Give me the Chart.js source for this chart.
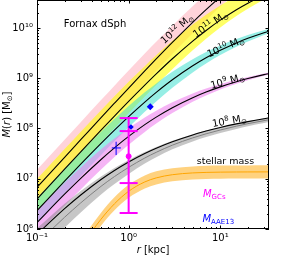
<!DOCTYPE html>
<html>
<head>
<title>Fornax dSph</title>
<script src="https://cdn.jsdelivr.net/npm/chart.js@4.4.1/dist/chart.umd.min.js"></script>
</head>
<body style="margin:0;background:#fff;">
<canvas id="myChart" width="299" height="258"></canvas>
<script>
var radii = [0.1, 0.2, 0.3, 0.5, 0.7, 1, 1.5, 2, 3, 5, 7, 10, 15, 20, 30, 35];

// halo M(r) curves: median line + upper/lower edge of the band
var m12   = [6.76e6, 2.675e7, 5.97e7, 1.642e8, 3.18e8, 6.385e8, 1.398e9, 2.418e9, 5.16e9, 1.297e10, 2.31e10, 4.15e10, 7.67e10];
var m12Hi = [1.514e7, 5.99e7, 1.337e8, 3.676e8, 7.12e8, 1.419e9, 3.087e9, 5.30e9, 1.111e10, 2.71e10, 4.73e10, 8.15e10, 1.435e11];
var m12Lo = [3.80e6, 1.504e7, 3.36e7, 9.24e7, 1.789e8, 3.616e8, 7.97e8, 1.388e9, 3.02e9, 7.81e9, 1.421e10, 2.66e10, 5.16e10];

var m11   = [3.93e6, 1.551e7, 3.44e7, 9.29e7, 1.770e8, 3.47e8, 7.30e8, 1.220e9, 2.438e9, 5.48e9, 8.92e9, 1.429e10, 2.302e10, 3.108e10, 4.51e10];
var m11Hi = [9.87e6, 3.896e7, 8.64e7, 2.307e8, 4.365e8, 8.46e8, 1.739e9, 2.853e9, 5.55e9, 1.174e10, 1.834e10, 2.812e10, 4.32e10, 5.63e10, 7.80e10];
var m11Lo = [2.21e6, 8.72e6, 1.937e7, 5.28e7, 1.014e8, 2.010e8, 4.33e8, 7.37e8, 1.513e9, 3.61e9, 6.13e9, 1.026e10, 1.735e10, 2.424e10, 3.68e10];

var m10   = [2.32e6, 8.95e6, 1.944e7, 5.04e7, 9.25e7, 1.718e8, 3.347e8, 5.218e8, 9.30e8, 1.766e9, 2.551e9, 3.598e9, 5.045e9, 6.219e9, 8.05e9, 8.79e9];
var m10Hi = [4.125e6, 1.573e7, 3.386e7, 8.58e7, 1.542e8, 2.805e8, 5.23e8, 7.88e8, 1.338e9, 2.388e9, 3.316e9, 4.479e9, 6.02e9, 7.21e9, 8.97e9, 9.64e9];
var m10Lo = [1.305e6, 5.09e6, 1.116e7, 2.961e7, 5.55e7, 1.052e8, 2.141e8, 3.456e8, 6.46e8, 1.306e9, 1.962e9, 2.890e9, 4.225e9, 5.366e9, 7.23e9, 8.02e9];

var m9   = [1.344e6, 4.918e6, 1.0166e7, 2.418e7, 4.113e7, 6.945e7, 1.191e8, 1.682e8, 2.591e8, 4.104e8, 5.306e8, 6.731e8, 8.503e8, 9.836e8, 1.180e9, 1.257e9];
var m9Hi = [2.351e6, 8.35e6, 1.683e7, 3.849e7, 6.285e7, 1.018e8, 1.659e8, 2.264e8, 3.322e8, 4.970e8, 6.219e8, 7.606e8, 9.277e8, 1.0564e9, 1.2437e9, 1.3136e9];
var m9Lo = [7.68e5, 2.896e6, 6.139e6, 1.519e7, 2.692e7, 4.737e7, 8.55e7, 1.2496e8, 2.021e8, 3.389e8, 4.527e8, 5.957e8, 7.794e8, 9.158e8, 1.1195e9, 1.2029e9];

var m8    = [7.83e5, 2.538e6, 4.75e6, 9.66e6, 1.461e7, 2.160e7, 3.181e7, 4.047e7, 5.444e7, 7.444e7, 8.874e7, 1.046e8, 1.233e8, 1.369e8, 1.564e8, 1.638e8];
var m8Hi  = [1.032e6, 3.195e6, 5.71e6, 1.109e7, 1.639e7, 2.367e7, 3.410e7, 4.286e7, 5.70e7, 7.705e7, 9.08e7, 1.070e8, 1.261e8, 1.400e8, 1.600e8, 1.676e8];
var m8Lo  = [3.117e5, 1.058e6, 2.121e6, 4.842e6, 7.846e6, 1.243e7, 2.007e7, 2.673e7, 3.853e7, 5.518e7, 6.733e7, 8.121e7, 9.793e7, 1.113e8, 1.286e8, 1.363e8];
var m8Mid = [5.17e5, 1.711e6, 3.306e6, 7.077e6, 1.104e7, 1.685e7, 2.586e7, 3.358e7, 4.661e7, 6.507e7, 7.839e7, 9.331e7, 1.112e8, 1.247e8, 1.434e8, 1.508e8];

// stellar mass profile
var stellar   = [1.85e4, 1.40e5, 4.33e5, 1.569e6, 3.17e6, 5.63e6, 8.64e6, 1.039e7, 1.204e7, 1.306e7, 1.337e7, 1.3535e7, 1.3626e7, 1.366e7, 1.368e7, 1.369e7];
var stellarHi = [2.50e4, 1.89e5, 5.84e5, 2.117e6, 4.276e6, 7.595e6, 1.1655e7, 1.4016e7, 1.6242e7, 1.7618e7, 1.8036e7, 1.8259e7, 1.8381e7, 1.8427e7, 1.8454e7, 1.8468e7];
var stellarLo = [1.37e4, 1.04e5, 3.21e5, 1.163e6, 2.35e6, 4.173e6, 6.405e6, 7.702e6, 8.925e6, 9.681e6, 9.911e6, 1.0033e7, 1.0101e7, 1.0126e7, 1.0141e7, 1.0148e7];

// M_GCs point with two error ranges
var gcR = [1.0];
var gcM = [2.8e7];
var gcLo68 = [8.2e6], gcHi68 = [8.87e7];
var gcLo95 = [2.08e6], gcHi95 = [1.61e8];

// M_AAE13 points
var aaeR = [0.73], aaeM = [4.1e7];
var aaeRLo = [0.655], aaeRHi = [0.822];
var aaeMLo = [2.96e7], aaeMHi = [5.45e7];
var diamR = [1.72, 1.06];
var diamM = [2.7e8, 1.07e8];

// axis ticks
var xTicks = [0.1, 1, 10];
var xTickText = ['10\u207B\u00B9', '10\u2070', '10\u00B9'];
var yTicks = [1e6, 1e7, 1e8, 1e9, 1e10];
var yTickText = ['10\u2076', '10\u2077', '10\u2078', '10\u2079', '10\u00B9\u2070'];

var FONT = '"DejaVu Sans", sans-serif';

function pts(ys) {
	return ys.map(function (y, i) { return { x: radii[i], y: y }; });
}

var datasets = [];
function band(hi, lo, color, order) {
	datasets.push({ data: pts(hi), borderWidth: 0, pointRadius: 0, fill: false, order: order });
	var idx = datasets.length - 1;
	datasets.push({ data: pts(lo), borderWidth: 0, pointRadius: 0, fill: idx, backgroundColor: color, order: order });
}
function curve(ys, color, width, order) {
	datasets.push({ data: pts(ys), borderColor: color, borderWidth: width, pointRadius: 0, fill: false, order: order });
}

band(m12Hi, m12Lo, 'rgba(255,182,193,0.6)', 16);
band(m11Hi, m11Lo, 'rgba(255,255,0,0.6)', 15);
band(m10Hi, m10Lo, 'rgba(64,224,208,0.55)', 14);
band(m9Hi, m9Lo, 'rgba(238,130,238,0.6)', 13);
band(m8Hi, m8Lo, 'rgba(128,128,128,0.45)', 12);
band(stellarHi, stellarLo, 'rgba(255,165,0,0.5)', 11);
curve(m8Mid, '#808080', 1, 5);
curve(stellar, '#ffa500', 1, 5);
curve(m12, '#000', 1.1, 4);
curve(m11, '#000', 1.1, 4);
curve(m10, '#000', 1.1, 4);
curve(m9, '#000', 1.1, 4);
curve(m8, '#000', 1.1, 4);

datasets.push({
	data: gcR.map(function (r, i) { return { x: r, y: gcM[i] }; }),
	showLine: false, pointStyle: 'circle', pointRadius: 2.5,
	backgroundColor: '#ff00ff', borderColor: '#ff00ff', order: -1
});
var markerIndex = datasets.length - 1;
datasets.push({
	data: diamR.map(function (r, i) { return { x: r, y: diamM[i] }; }),
	showLine: false, pointStyle: 'rectRot', pointRadius: [3.5, 2.8],
	backgroundColor: '#0000ff', borderColor: '#0000ff', borderWidth: 0, order: -2
});

// draws text made of pieces [text, size, dy, italic]
function rich(c, parts, x, y, colour) {
	var w = 0;
	parts.forEach(function (p) {
		c.font = (p[3] ? 'italic ' : '') + p[1] + 'px ' + FONT;
		w += c.measureText(p[0]).width;
	});
	var cx = x - w / 2;
	parts.forEach(function (p) {
		c.font = (p[3] ? 'italic ' : '') + p[1] + 'px ' + FONT;
		c.fillStyle = colour || '#000';
		c.fillText(p[0], cx, y + p[2]);
		cx += c.measureText(p[0]).width;
	});
}

function massLabel(exp) {
	return [['10', 10, 0], [exp, 7, -4], [' M', 10, 0], ['\u2299', 7, 2]];
}

// halo labels: [exponent, r, M, angle]
var haloLabels = [['12', 3.3, 9.9e9, -42], ['11', 7.7, 1.22e10, -34], ['10', 11.3, 4.35e9, -23], ['9', 11.9, 9.1e8, -15], ['8', 12.5, 1.47e8, -10]];

function logTicks(min, max) {
	var out = [];
	for (var e = Math.floor(Math.log10(min)); e <= Math.ceil(Math.log10(max)); e++) {
		for (var m = 1; m < 10; m++) {
			var v = m * Math.pow(10, e);
			if (v >= min * 0.9999 && v <= max * 1.0001) out.push({ v: v, major: m === 1 });
		}
	}
	return out;
}

var framePlugin = {
	id: 'frame',
	beforeDatasetDraw: function (chart, args) {
		if (args.index !== markerIndex) return;
		var c = chart.ctx, xs = chart.scales.x, ys = chart.scales.y;
		c.save();
		c.strokeStyle = '#ff00ff';
		c.lineWidth = 2;
		gcR.forEach(function (r, i) {
			var px = xs.getPixelForValue(r);
			c.beginPath();
			c.moveTo(px, ys.getPixelForValue(gcHi95[i]));
			c.lineTo(px, ys.getPixelForValue(gcLo95[i]));
			c.stroke();
			[gcHi95[i], gcHi68[i], gcLo68[i], gcLo95[i]].forEach(function (v) {
				var py = ys.getPixelForValue(v);
				c.beginPath(); c.moveTo(px - 9, py); c.lineTo(px + 9, py); c.stroke();
			});
		});
		c.strokeStyle = '#0000ff';
		c.lineWidth = 1;
		aaeR.forEach(function (r, i) {
			var px = xs.getPixelForValue(r), py = ys.getPixelForValue(aaeM[i]);
			c.beginPath();
			c.moveTo(xs.getPixelForValue(aaeRLo[i]), py); c.lineTo(xs.getPixelForValue(aaeRHi[i]), py);
			c.moveTo(px, ys.getPixelForValue(aaeMLo[i])); c.lineTo(px, ys.getPixelForValue(aaeMHi[i]));
			c.stroke();
		});
		c.restore();
	},
	afterDraw: function (chart) {
		var c = chart.ctx, a = chart.chartArea, xs = chart.scales.x, ys = chart.scales.y;
		c.save();
		c.strokeStyle = '#000';
		c.lineWidth = 1;
		c.strokeRect(a.left + 0.5, a.top + 0.5, a.right - a.left - 1, a.bottom - a.top - 1);
		c.beginPath();
		logTicks(xs.min, xs.max).forEach(function (t) {
			var px = Math.round(xs.getPixelForValue(t.v)) + 0.5, l = t.major ? 3.5 : 2;
			c.moveTo(px, a.bottom); c.lineTo(px, a.bottom - l);
			c.moveTo(px, a.top); c.lineTo(px, a.top + l);
		});
		logTicks(ys.min, ys.max).forEach(function (t) {
			var py = Math.round(ys.getPixelForValue(t.v)) + 0.5, l = t.major ? 3.5 : 2;
			c.moveTo(a.left, py); c.lineTo(a.left + l, py);
			c.moveTo(a.right, py); c.lineTo(a.right - l, py);
		});
		c.stroke();

		c.textBaseline = 'alphabetic';
		haloLabels.forEach(function (h) {
			c.save();
			c.translate(xs.getPixelForValue(h[1]), ys.getPixelForValue(h[2]));
			c.rotate(h[3] * Math.PI / 180);
			rich(c, massLabel(h[0]), 0, 4, '#000');
			c.restore();
		});
		rich(c, [['Fornax dSph', 10, 0]], xs.getPixelForValue(0.43), ys.getPixelForValue(1.26e10) + 4, '#000');
		rich(c, [['stellar mass', 9.5, 0]], xs.getPixelForValue(11.4), ys.getPixelForValue(2.36e7) + 4, '#000');
		rich(c, [['M', 10, 0, true], ['GCs', 7, 2]], xs.getPixelForValue(8.6), ys.getPixelForValue(5.2e6) + 4, '#ff00ff');
		rich(c, [['M', 10, 0, true], ['AAE13', 7, 2]], xs.getPixelForValue(9.5), ys.getPixelForValue(1.66e6) + 4, '#0000ff');

		// axis titles
		rich(c, [['r', 10, 0, true], [' [kpc]', 10, 0]], (a.left + a.right) / 2, a.bottom + 24, '#000');
		c.save();
		c.translate(10, (a.top + a.bottom) / 2);
		c.rotate(-Math.PI / 2);
		rich(c, [['M', 10, 0, true], ['(', 10, 0], ['r', 10, 0, true], [') [M', 10, 0], ['\u2299', 7, 2], [']', 10, 0]], 0, 0, '#000');
		c.restore();
		c.restore();
	}
};

function tickText(list, text) {
	return function (v) {
		for (var i = 0; i < list.length; i++) {
			if (Math.abs(Math.log10(v) - Math.log10(list[i])) < 1e-6) return text[i];
		}
		return '';
	};
}

// markers near the edge would otherwise pad the whole plot area inwards
Chart.LineController.prototype.getMaxOverflow = function () { return 0; };

Chart.defaults.font.family = FONT;
Chart.defaults.font.size = 10;
Chart.defaults.color = '#000';

var ctx = document.getElementById('myChart').getContext('2d');
var myChart = new Chart(ctx, {
	type: 'line',
	data: { datasets: datasets },
	options: {
		responsive: false,
		animation: false,
		devicePixelRatio: 1,
		layout: { padding: { top: 0, right: 30, left: 0, bottom: 0 } },
		elements: { line: { cubicInterpolationMode: 'monotone' } },
		plugins: { legend: { display: false }, tooltip: { enabled: false } },
		scales: {
			x: {
				type: 'logarithmic', min: 0.1, max: 34,
				grid: { display: false, drawTicks: false }, border: { display: false },
				ticks: { autoSkip: false, maxRotation: 0, padding: 3, callback: tickText(xTicks, xTickText) },
				afterFit: function (s) { s.height = 29; s.paddingLeft = 0; s.paddingRight = 0; }
			},
			y: {
				type: 'logarithmic', min: 1e6, max: 3.6e10,
				grid: { display: false, drawTicks: false }, border: { display: false },
				ticks: { autoSkip: false, padding: 4, callback: tickText(yTicks, yTickText) },
				afterFit: function (s) { s.width = 37; s.paddingTop = 0; s.paddingBottom = 0; }
			}
		}
	},
	plugins: [framePlugin]
});
</script>
</body>
</html>
